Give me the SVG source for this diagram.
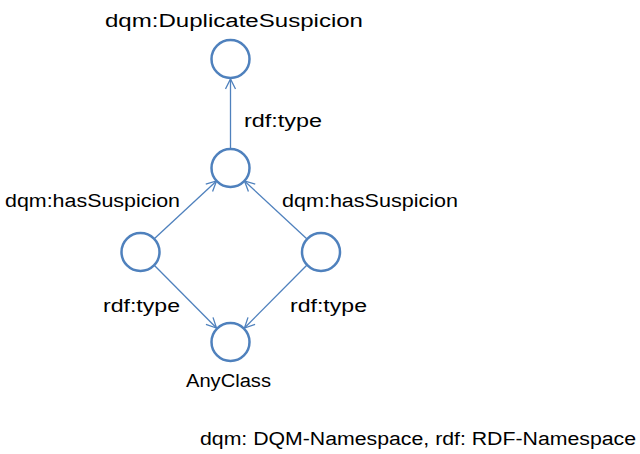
<svg xmlns="http://www.w3.org/2000/svg" width="640" height="454" viewBox="0 0 640 454">
  <defs>
    <style>
      .node { fill: #ffffff; stroke: #4f81bd; stroke-width: 2.5; }
      .edge { fill: none; stroke: #4f81bd; stroke-width: 1.3; marker-end: url(#arrow); }
      text { font-family: "Liberation Sans", Arial, sans-serif; font-size: 18px; fill: #000000; }
    </style>
    <marker id="arrow" viewBox="0 0 12 12" refX="11" refY="6" markerWidth="12" markerHeight="12" markerUnits="userSpaceOnUse" orient="auto">
      <path d="M1,1 L11,6 L1,11" fill="none" stroke="#4f81bd" stroke-width="1.3"/>
    </marker>
  </defs>
  <rect width="640" height="454" fill="#ffffff"/>

  <g id="connectors">
    <line class="edge" x1="230.5" y1="149" x2="230.5" y2="79"/>
    <line class="edge" x1="154" y1="239" x2="216.5" y2="181"/>
    <line class="edge" x1="307" y1="239" x2="244.5" y2="181"/>
    <line class="edge" x1="154" y1="265" x2="216.5" y2="328"/>
    <line class="edge" x1="307" y1="265" x2="244.5" y2="328"/>
    <text x="244" y="127" textLength="78" lengthAdjust="spacingAndGlyphs">rdf:type</text>
    <text x="5" y="207" textLength="175" lengthAdjust="spacingAndGlyphs">dqm:hasSuspicion</text>
    <text x="282" y="207" textLength="176" lengthAdjust="spacingAndGlyphs">dqm:hasSuspicion</text>
    <text x="103" y="312" textLength="77" lengthAdjust="spacingAndGlyphs">rdf:type</text>
    <text x="290" y="312" textLength="77" lengthAdjust="spacingAndGlyphs">rdf:type</text>
  </g>

  <g id="duplicate-suspicion">
    <circle class="node" cx="230.5" cy="59" r="19"/>
    <text x="105" y="27" textLength="258" lengthAdjust="spacingAndGlyphs">dqm:DuplicateSuspicion</text>
  </g>
  <g id="suspicion">
    <circle class="node" cx="230.5" cy="168" r="19"/>
  </g>
  <g id="instance-left">
    <circle class="node" cx="140.5" cy="252" r="19"/>
  </g>
  <g id="instance-right">
    <circle class="node" cx="321" cy="252" r="19"/>
  </g>
  <g id="any-class">
    <circle class="node" cx="230.5" cy="342" r="19"/>
    <text x="186" y="387" textLength="85" lengthAdjust="spacingAndGlyphs">AnyClass</text>
  </g>

  <g id="legend">
    <text x="200" y="445" textLength="436" lengthAdjust="spacingAndGlyphs">dqm: DQM-Namespace, rdf: RDF-Namespace</text>
  </g>
</svg>
